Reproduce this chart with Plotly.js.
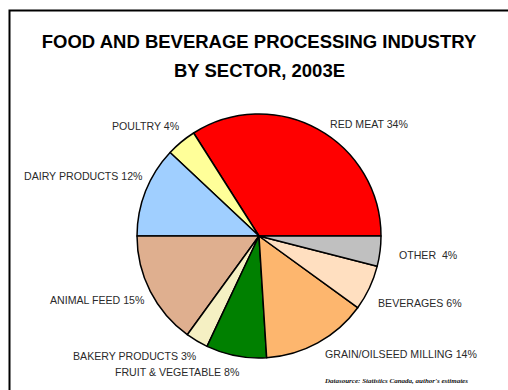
<!DOCTYPE html>
<html><head><meta charset="utf-8">
<script src="https://cdn.plot.ly/plotly-3.0.1.min.js"></script>
<style>html,body{margin:0;padding:0;background:#fff;}#chart{width:508px;height:390px;}</style>
</head><body><div id="chart"></div>
<script>
const sectors = ["RED MEAT","POULTRY","DAIRY PRODUCTS","ANIMAL FEED","BAKERY PRODUCTS","FRUIT & VEGETABLE","GRAIN/OILSEED MILLING","BEVERAGES","OTHER"];
const shares = [34,4,12,15,3,8,14,6,4];
const colors = ["#FF0000","#FFFF99","#A0CFFF","#DFAF8F","#F5F0C3","#008000","#FDB66E","#FFDFC0","#C0C0C0"];
const titleLines = ["FOOD AND BEVERAGE PROCESSING INDUSTRY","BY SECTOR, 2003E"];
const sourceNote = "Datasource: Statistics Canada, author's estimates";
const labelText = sectors.map((s,i)=> s + (s==="OTHER" ? "  " : " ") + shares[i] + "%");
// label placement (pixel centres)
const labelPos = [
  {x:369,y:124},
  {x:146,y:126},
  {x:83,y:176},
  {x:97,y:300},
  {x:135,y:356},
  {x:177,y:372},
  {x:401,y:354},
  {x:420,y:303},
  {x:428,y:255}
];
const W=508,H=390;
const cx=259, cy=236, r=122;
const total = shares.reduce((a,b)=>a+b,0);
const lblFont = {family:"Liberation Sans, Arial, sans-serif", size:10.6, color:"#2a2a2a"};
const titleFont = {family:"Liberation Sans, Arial, sans-serif", size:18.5, color:"#000"};
const annotations = labelText.map((t,i)=>({
  text:t, xref:"paper", yref:"paper", x:labelPos[i].x/W, y:1-labelPos[i].y/H,
  xanchor:"center", yanchor:"middle", showarrow:false, font:lblFont
}));
annotations.push({
  text:"<b>"+titleLines[1]+"</b>", xref:"paper", yref:"paper", x:259/W, y:1-70/H,
  xanchor:"center", yanchor:"middle", showarrow:false, font:titleFont
});
annotations.push({
  text:"<b><i>"+sourceNote+"</i></b>",
  xref:"paper", yref:"paper", x:396/W, y:1-381/H, xanchor:"center", yanchor:"middle",
  showarrow:false, font:{family:"Liberation Serif, Times New Roman, serif", size:7, color:"#111"}
});
const data=[{
  type:"pie", values:shares, labels:sectors, sort:false, direction:"counterclockwise",
  rotation: 90 - 360*shares[0]/total, textinfo:"none", hoverinfo:"label+percent",
  marker:{colors:colors, line:{color:"#000", width:1.5}},
  domain:{x:[(cx-r)/W,(cx+r)/W], y:[1-(cy+r)/H, 1-(cy-r)/H]},
  showlegend:false
}];
const layout={
  width:W,height:H,margin:{l:0,r:0,t:0,b:0},paper_bgcolor:"#fff",
  title:{text:"<b>"+titleLines[0]+"</b>",
    x:259/W, xanchor:"center", y:1-42/H, yanchor:"middle",
    font:titleFont},
  annotations:annotations,
  shapes:[{type:"rect",xref:"paper",yref:"paper",x0:9.5/W,x1:1.05,y0:-0.05,y1:1-10.5/H,
    line:{color:"#000",width:2}}]
};
Plotly.newPlot("chart",data,layout,{displayModeBar:false,staticPlot:true});
</script></body></html>
